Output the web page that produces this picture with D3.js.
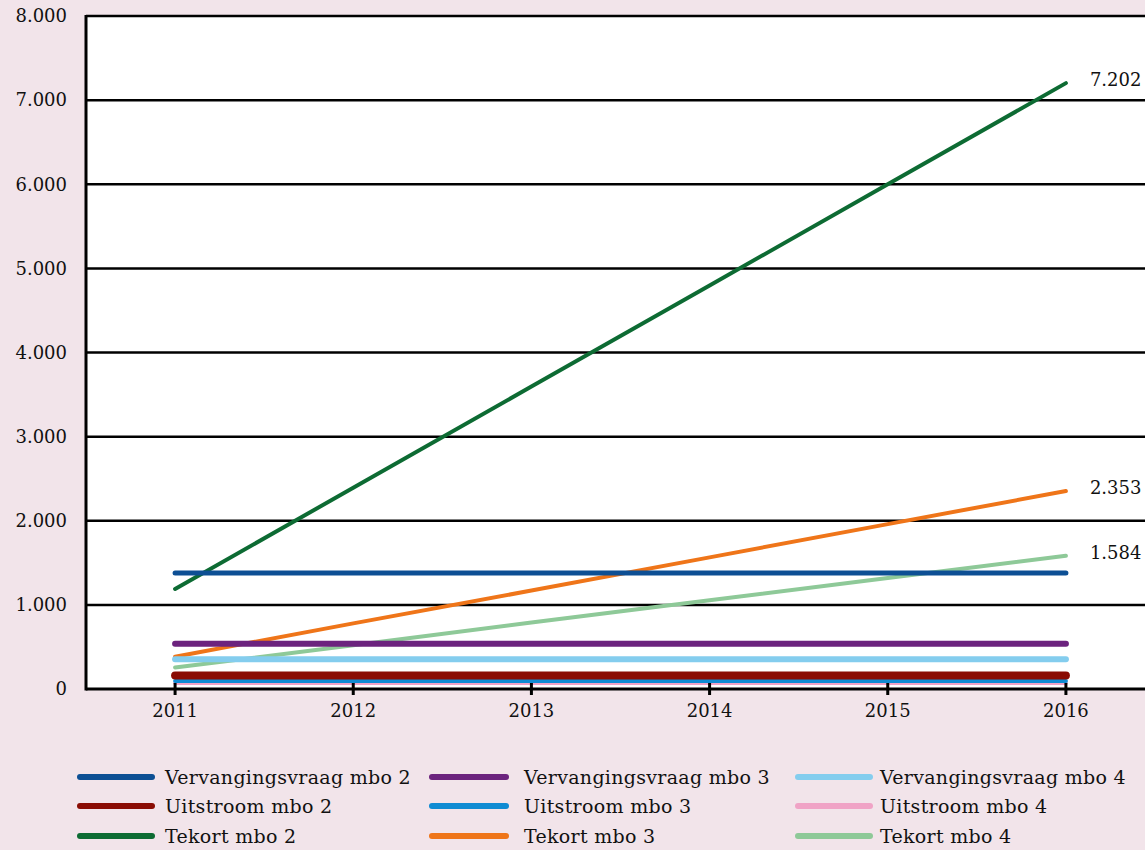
<!DOCTYPE html>
<html lang="nl">
<head>
    <meta charset="UTF-8">
    <title>Vervangingsvraag, uitstroom en tekort mbo</title>
    <script src="https://d3js.org/d3.v7.min.js"></script>
    <style>
        body { margin: 0; background: #f2e4ea; }
        text { font-family: "DejaVu Serif", serif; font-size: 18px; fill: #111; }
        .legend text { font-size: 19px; letter-spacing: 0.3px; }
    </style>
</head>
<body>
    <svg width="1145" height="850"></svg>
    <script>
        // data
        const years = [2011, 2012, 2013, 2014, 2015, 2016];
        const yTicks = [0, 1000, 2000, 3000, 4000, 5000, 6000, 7000, 8000];

        const vervangingsvraagMbo2 = [1380, 1380, 1380, 1380, 1380, 1380];
        const vervangingsvraagMbo3 = [537, 537, 537, 537, 537, 537];
        const vervangingsvraagMbo4 = [355, 355, 355, 355, 355, 355];
        const uitstroomMbo2 = [160, 160, 160, 160, 160, 160];
        const uitstroomMbo3 = [95, 95, 95, 95, 95, 95];
        const uitstroomMbo4 = [70, 70, 70, 70, 70, 70];
        const tekortMbo2 = [1190, 2392, 3595, 4797, 6000, 7202];
        const tekortMbo3 = [384, 780, 1170, 1565, 1960, 2353];
        const tekortMbo4 = [255, 520, 790, 1055, 1320, 1584];

        // legend order (3 columns x 3 rows)
        const legendNames = [
            "Vervangingsvraag mbo 2", "Uitstroom mbo 2", "Tekort mbo 2",
            "Vervangingsvraag mbo 3", "Uitstroom mbo 3", "Tekort mbo 3",
            "Vervangingsvraag mbo 4", "Uitstroom mbo 4", "Tekort mbo 4"
        ];

        const colors = {
            "Vervangingsvraag mbo 2": "#0d4f94",
            "Vervangingsvraag mbo 3": "#6c237e",
            "Vervangingsvraag mbo 4": "#84cdee",
            "Uitstroom mbo 2": "#8a0c04",
            "Uitstroom mbo 3": "#0f8bd3",
            "Uitstroom mbo 4": "#f0a3c6",
            "Tekort mbo 2": "#0d6b33",
            "Tekort mbo 3": "#ef7519",
            "Tekort mbo 4": "#8ec998"
        };

        const widths = {
            "Vervangingsvraag mbo 2": 5,
            "Vervangingsvraag mbo 3": 6,
            "Vervangingsvraag mbo 4": 6,
            "Uitstroom mbo 2": 8,
            "Uitstroom mbo 3": 4,
            "Uitstroom mbo 4": 4,
            "Tekort mbo 2": 4,
            "Tekort mbo 3": 4,
            "Tekort mbo 4": 4
        };

        // drawing order: tekort underneath
        const series = [
            { name: "Tekort mbo 2", values: tekortMbo2, label: true },
            { name: "Tekort mbo 3", values: tekortMbo3, label: true },
            { name: "Tekort mbo 4", values: tekortMbo4, label: true },
            { name: "Vervangingsvraag mbo 2", values: vervangingsvraagMbo2 },
            { name: "Vervangingsvraag mbo 3", values: vervangingsvraagMbo3 },
            { name: "Vervangingsvraag mbo 4", values: vervangingsvraagMbo4 },
            { name: "Uitstroom mbo 4", values: uitstroomMbo4 },
            { name: "Uitstroom mbo 3", values: uitstroomMbo3 },
            { name: "Uitstroom mbo 2", values: uitstroomMbo2 }
        ];

        const nl = d3.formatLocale({ decimal: ",", thousands: ".", grouping: [3], currency: ["€", ""] });
        const fmt = nl.format(",d");

        const svg = d3.select("svg");

        const mLeft = 86, mRight = 1155, mTop = 16, mBottom = 689;

        const x = d3.scaleLinear().domain([2010.5, 2016.5]).range([mLeft, mRight]);
        const y = d3.scaleLinear().domain([0, 8000]).range([mBottom, mTop]);

        // plot background
        svg.append("rect")
            .attr("x", mLeft).attr("y", mTop)
            .attr("width", mRight - mLeft).attr("height", mBottom - mTop)
            .attr("fill", "#fff");

        // gridlines
        svg.append("g")
            .selectAll("line")
            .data(yTicks.filter(d => d > 0))
            .join("line")
            .attr("x1", mLeft).attr("x2", mRight)
            .attr("y1", d => y(d)).attr("y2", d => y(d))
            .attr("stroke", "#000")
            .attr("stroke-width", 2.5);

        // y labels
        svg.append("g")
            .selectAll("text")
            .data(yTicks)
            .join("text")
            .attr("x", 67)
            .attr("y", d => y(d))
            .attr("dy", "0.35em")
            .attr("text-anchor", "end")
            .text(d => fmt(d));

        // lines
        const line = d3.line()
            .x((d, i) => x(years[i]))
            .y(d => y(d));

        svg.append("g")
            .selectAll("path")
            .data(series)
            .join("path")
            .attr("d", d => line(d.values))
            .attr("fill", "none")
            .attr("stroke", d => colors[d.name])
            .attr("stroke-width", d => widths[d.name])
            .attr("stroke-linecap", "round");

        // end labels
        svg.append("g")
            .selectAll("text")
            .data(series.filter(d => d.label))
            .join("text")
            .attr("x", d => x(years[years.length - 1]) + 24)
            .attr("y", d => y(d.values[d.values.length - 1]) - 3)
            .attr("dy", "0.35em")
            .text(d => fmt(d.values[d.values.length - 1]));

        // axes lines
        svg.append("line")
            .attr("x1", mLeft).attr("x2", mLeft)
            .attr("y1", mTop - 1).attr("y2", mBottom + 1.5)
            .attr("stroke", "#000").attr("stroke-width", 3);
        svg.append("line")
            .attr("x1", mLeft).attr("x2", mRight)
            .attr("y1", mBottom).attr("y2", mBottom)
            .attr("stroke", "#000").attr("stroke-width", 3);

        // x ticks and labels
        const xt = svg.append("g")
            .selectAll("g")
            .data(years)
            .join("g")
            .attr("transform", d => `translate(${x(d)},${mBottom})`);
        xt.append("line")
            .attr("y1", -6).attr("y2", 6)
            .attr("stroke", "#000").attr("stroke-width", 3);
        xt.append("text")
            .attr("y", 28)
            .attr("text-anchor", "middle")
            .text(d => d);

        // legend
        const colX = [80, 432, 798];
        const swatchLen = [72, 74, 72];
        const textX = [165, 524, 880];
        const rowY = [777, 806, 836];
        const lg = svg.append("g")
            .attr("class", "legend")
            .selectAll("g")
            .data(legendNames)
            .join("g")
            .attr("transform", (d, i) => `translate(0,${rowY[i % 3]})`);
        lg.append("line")
            .attr("x1", (d, i) => colX[Math.floor(i / 3)])
            .attr("x2", (d, i) => colX[Math.floor(i / 3)] + swatchLen[Math.floor(i / 3)])
            .attr("stroke", d => colors[d])
            .attr("stroke-width", 6)
            .attr("stroke-linecap", "round");
        lg.append("text")
            .attr("x", (d, i) => textX[Math.floor(i / 3)])
            .attr("dy", "0.35em")
            .text(d => d);
    </script>
</body>
</html>
